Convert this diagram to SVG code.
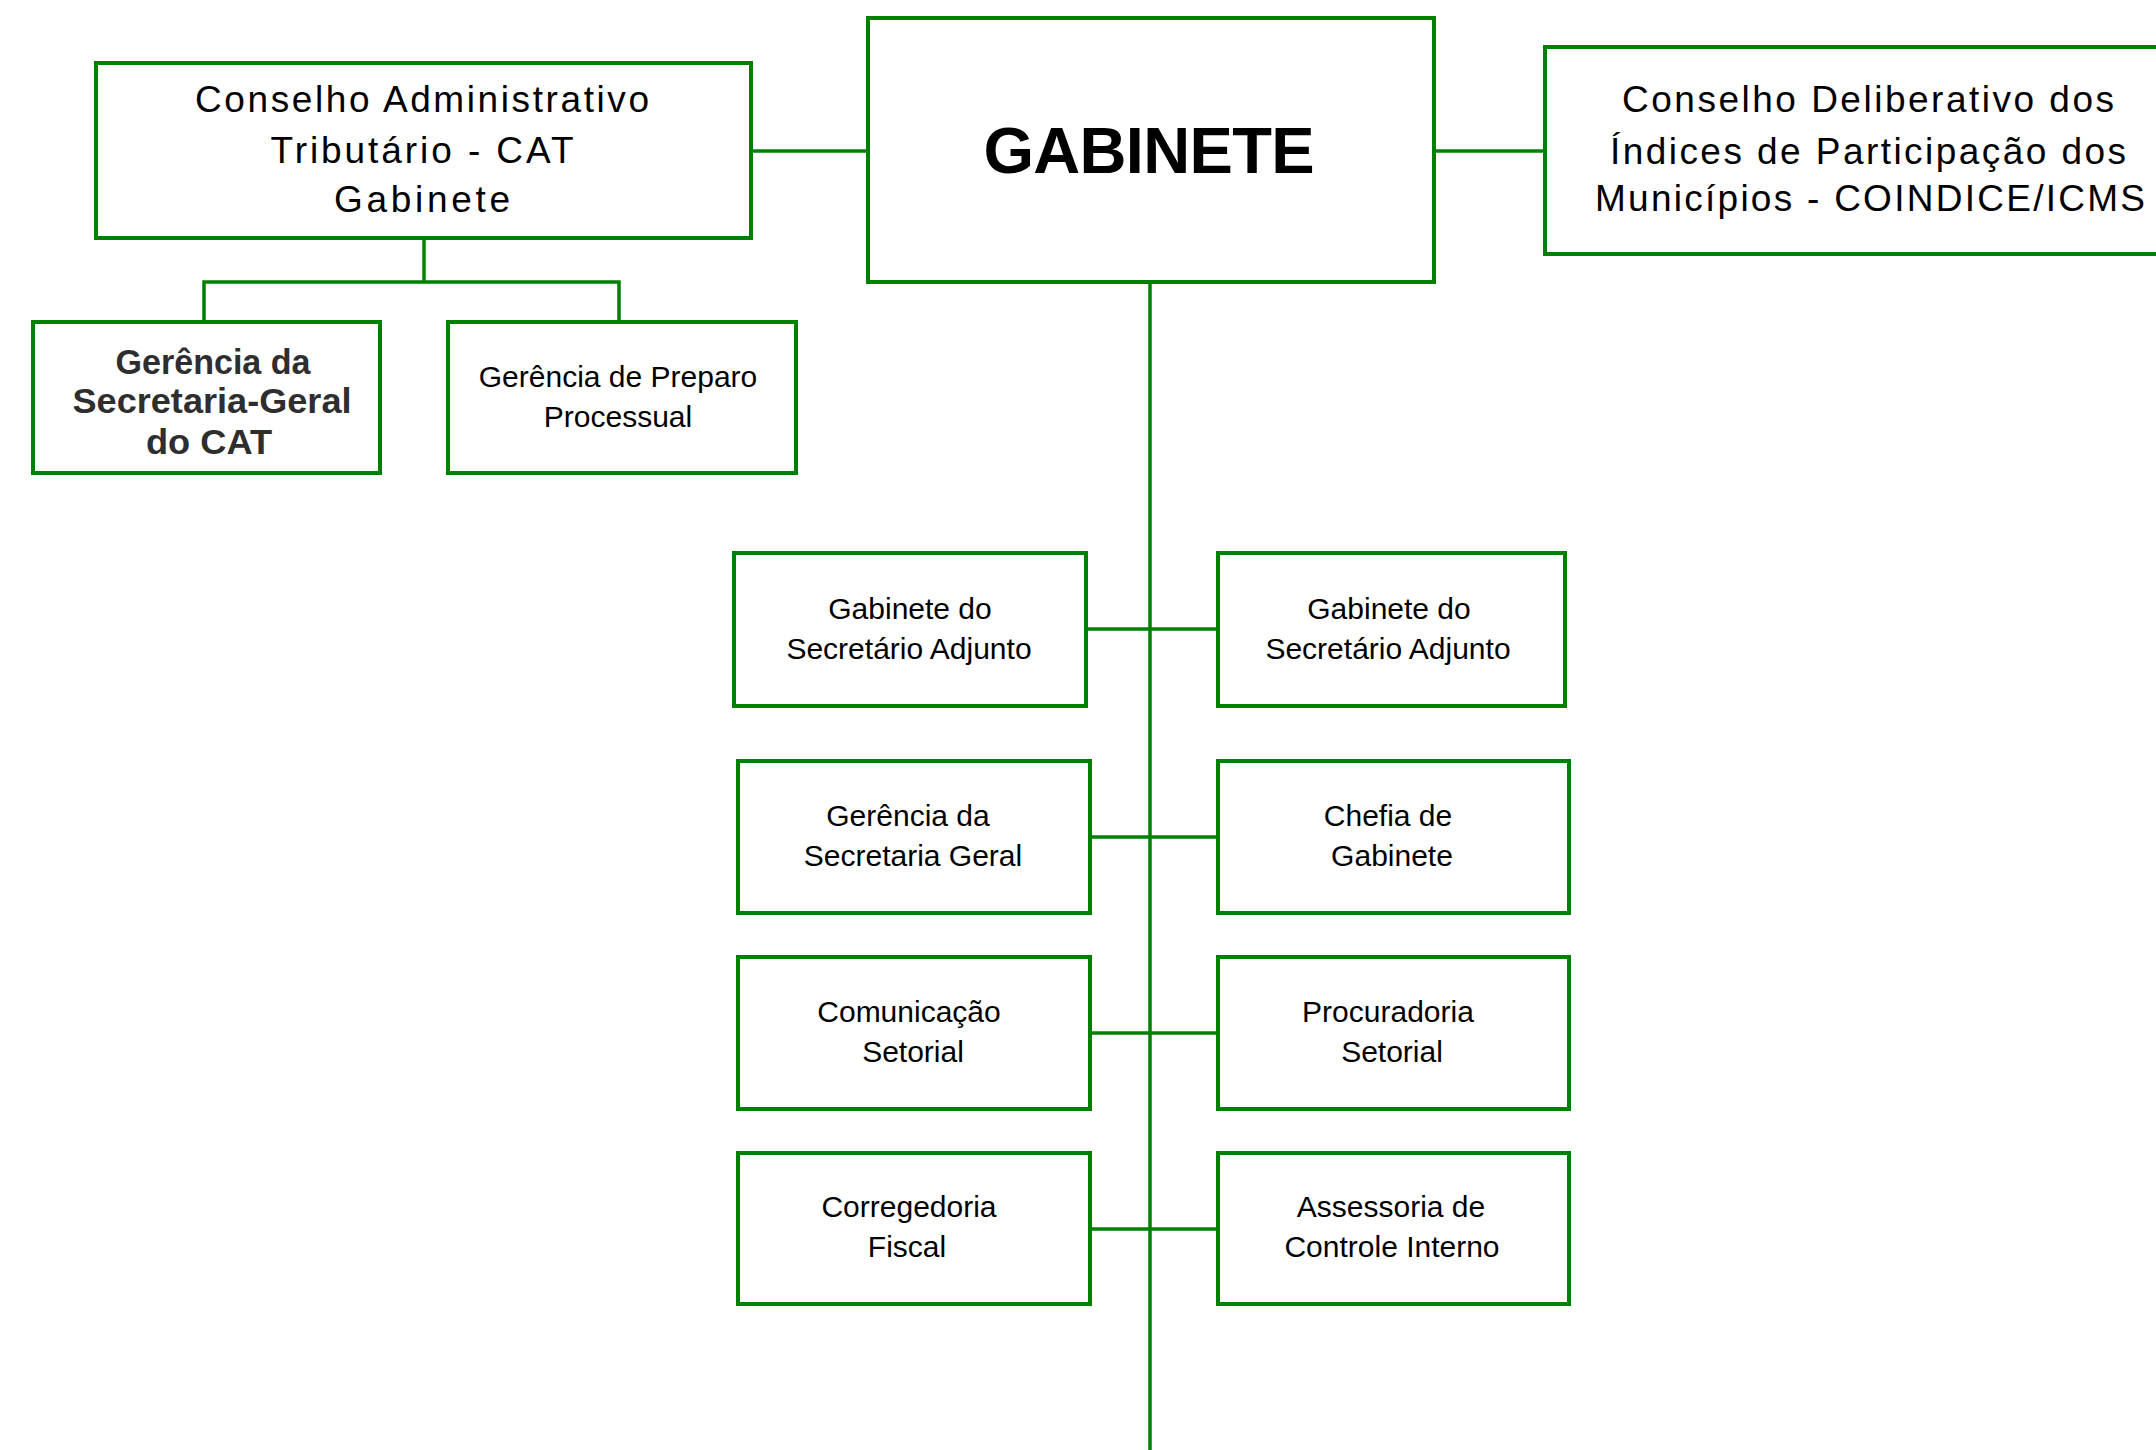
<svg xmlns="http://www.w3.org/2000/svg" width="2156" height="1450" viewBox="0 0 2156 1450">
<style>
.box{fill:#fff;stroke:#008000;stroke-width:4}
.con{fill:none;stroke:#008000;stroke-width:3.5}
text{font-family:"Liberation Sans",Arial,sans-serif;fill:#000;text-anchor:middle}
.big{font-size:37px}
.sm{font-size:30px}
.bd{font-size:35px;font-weight:bold;fill:#2e2e2e}
.title{font-size:65px;font-weight:bold}
</style>
<rect width="2156" height="1450" fill="#fff"/>
<g id="connectors">
<line class="con" x1="751" y1="151" x2="868" y2="151"/>
<line class="con" x1="1434" y1="151" x2="1545" y2="151"/>
<polyline class="con" points="424,238 424,282"/>
<polyline class="con" points="204,322 204,282 619,282 619,322"/>
<line class="con" x1="1150" y1="282" x2="1150" y2="1450"/>
<line class="con" x1="1086" y1="629" x2="1218" y2="629"/>
<line class="con" x1="1090" y1="837" x2="1218" y2="837"/>
<line class="con" x1="1090" y1="1033" x2="1218" y2="1033"/>
<line class="con" x1="1090" y1="1229" x2="1218" y2="1229"/>
</g>
<g id="gabinete">
<rect class="box" x="868" y="18" width="566" height="264"/>
<text class="title" x="1149" y="173" textLength="331" lengthAdjust="spacing">GABINETE</text>
</g>
<g id="cat">
<rect class="box" x="96" y="63" width="655" height="175"/>
<text class="big" x="422" y="112" textLength="454" lengthAdjust="spacing">Conselho Administrativo</text>
<text class="big" x="422" y="163" textLength="303" lengthAdjust="spacing">Tributário - CAT</text>
<text class="big" x="422" y="212" textLength="176" lengthAdjust="spacing">Gabinete</text>
</g>
<g id="coindice">
<rect class="box" x="1545" y="47" width="640" height="207"/>
<text class="big" x="1868" y="112" textLength="492" lengthAdjust="spacing">Conselho Deliberativo dos</text>
<text class="big" x="1868" y="164" textLength="516" lengthAdjust="spacing">Índices de Participação dos</text>
<text class="big" x="1870" y="211" textLength="550" lengthAdjust="spacing">Municípios - COINDICE/ICMS</text>
</g>
<g id="ger-sec-geral-cat">
<rect class="box" x="33" y="322" width="347" height="151"/>
<text class="bd" x="213" y="374" textLength="195" lengthAdjust="spacingAndGlyphs">Gerência da</text>
<text class="bd" x="212" y="413" textLength="279" lengthAdjust="spacingAndGlyphs">Secretaria-Geral</text>
<text class="bd" x="209" y="454" textLength="126" lengthAdjust="spacingAndGlyphs">do CAT</text>
</g>
<g id="ger-preparo">
<rect class="box" x="448" y="322" width="348" height="151"/>
<text class="sm" x="618" y="387">Gerência de Preparo</text>
<text class="sm" x="618" y="427">Processual</text>
</g>
<g id="gab-sec-adj-1">
<rect class="box" x="734" y="553" width="352" height="153"/>
<text class="sm" x="910" y="619">Gabinete do</text>
<text class="sm" x="909" y="659">Secretário Adjunto</text>
</g>
<g id="gab-sec-adj-2">
<rect class="box" x="1218" y="553" width="347" height="153"/>
<text class="sm" x="1389" y="619">Gabinete do</text>
<text class="sm" x="1388" y="659">Secretário Adjunto</text>
</g>
<g id="ger-sec-geral">
<rect class="box" x="738" y="761" width="352" height="152"/>
<text class="sm" x="908" y="826">Gerência da</text>
<text class="sm" x="913" y="866">Secretaria Geral</text>
</g>
<g id="chefia">
<rect class="box" x="1218" y="761" width="351" height="152"/>
<text class="sm" x="1388" y="826">Chefia de</text>
<text class="sm" x="1392" y="866">Gabinete</text>
</g>
<g id="comunicacao">
<rect class="box" x="738" y="957" width="352" height="152"/>
<text class="sm" x="909" y="1022">Comunicação</text>
<text class="sm" x="913" y="1062">Setorial</text>
</g>
<g id="procuradoria">
<rect class="box" x="1218" y="957" width="351" height="152"/>
<text class="sm" x="1388" y="1022">Procuradoria</text>
<text class="sm" x="1392" y="1062">Setorial</text>
</g>
<g id="corregedoria">
<rect class="box" x="738" y="1153" width="352" height="151"/>
<text class="sm" x="909" y="1217">Corregedoria</text>
<text class="sm" x="907" y="1257">Fiscal</text>
</g>
<g id="assessoria">
<rect class="box" x="1218" y="1153" width="351" height="151"/>
<text class="sm" x="1391" y="1217">Assessoria de</text>
<text class="sm" x="1392" y="1257">Controle Interno</text>
</g>
</svg>
